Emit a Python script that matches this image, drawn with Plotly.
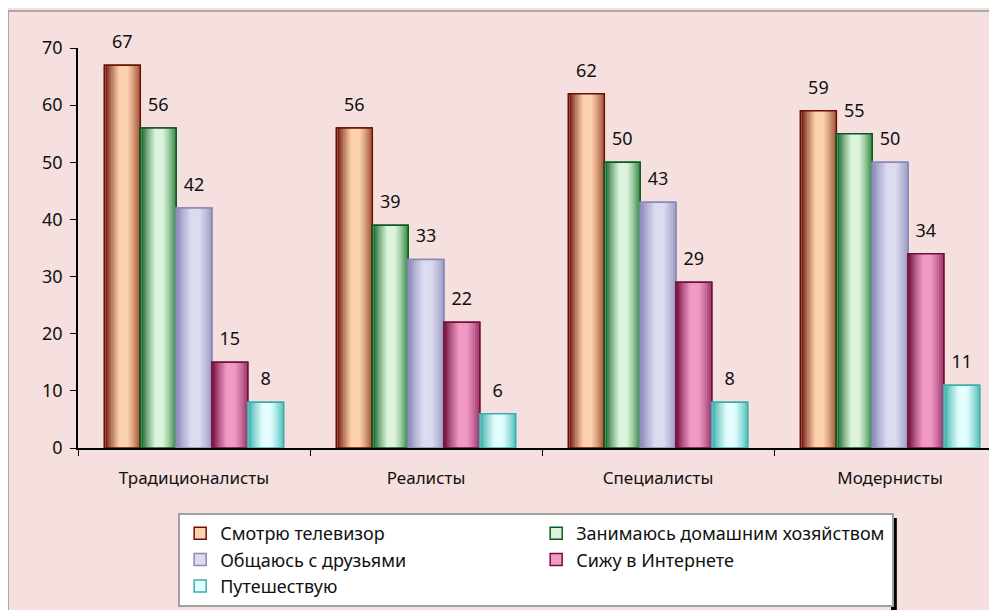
import plotly.graph_objects as go

categories = ["Традиционалисты", "Реалисты", "Специалисты", "Модернисты"]
series_names = ["Смотрю телевизор", "Занимаюсь домашним хозяйством",
                "Общаюсь с друзьями", "Сижу в Интернете", "Путешествую"]
tv = [67, 56, 62, 59]
house = [56, 39, 50, 55]
friends = [42, 33, 43, 50]
internet = [15, 22, 29, 34]
travel = [8, 6, 8, 11]
y_ticks = [0, 10, 20, 30, 40, 50, 60, 70]

series_values = [tv, house, friends, internet, travel]
# (left-edge dark, center light, right-edge, outline)
palette = [
    ("#660c04", "#fdd2ae", "#a85a3c", "#6a0e06"),
    ("#08561a", "#dcf4dc", "#40904e", "#0b5a1e"),
    ("#8482b2", "#dcdcf0", "#a09ec6", "#8a88b6"),
    ("#6c0c38", "#f29ac6", "#a03c70", "#72103c"),
    ("#34aaa6", "#e4fefe", "#5cc4c0", "#3aaeaa"),
]

FONT = "Noto Sans"
LABEL_GAP = 1.6  # data units of empty space between bar top and its label

def hex2rgb(h):
    h = h.lstrip("#")
    return [int(h[i:i + 2], 16) for i in (0, 2, 4)]

def mix(c1, c2, a):
    r1, r2 = hex2rgb(c1), hex2rgb(c2)
    return "rgb(%d,%d,%d)" % tuple(round(x + (y - x) * a) for x, y in zip(r1, r2))

group_w = 0.772
bar_w = group_w / 5
n_strips = 18
px = 1 / 232.0

fig = go.Figure()
for i, (name, vals, (dark, light, right, edge)) in enumerate(zip(series_names, series_values, palette)):
    base_off = -group_w / 2 + i * bar_w
    # base bar (legend entry)
    fig.add_trace(go.Bar(x=categories, y=vals, name=name, width=bar_w, offset=base_off,
                         marker=dict(color=light, line=dict(color=edge, width=1.5)),
                         showlegend=True, hoverinfo="skip"))
    sw = (bar_w - 2 * px) / n_strips
    for k in range(n_strips):
        t = (k + 0.5) / n_strips
        if t < 0.42:
            col = mix(dark, light, (t / 0.42) ** 0.75)
        elif t > 0.62:
            col = mix(light, right, ((t - 0.62) / 0.38) ** 1.3)
        else:
            col = light
        fig.add_trace(go.Bar(x=categories, y=vals, width=sw * 1.35,
                             offset=base_off + px + k * sw,
                             marker=dict(color=col, line=dict(width=0)),
                             showlegend=False, hoverinfo="skip"))
    # outline on top
    fig.add_trace(go.Bar(x=categories, y=vals, width=bar_w, offset=base_off,
                         marker=dict(color="rgba(0,0,0,0)", line=dict(color=edge, width=1.5)),
                         showlegend=False, hoverinfo="skip"))
    # value labels (invisible spacer bar sitting on the bar top)
    fig.add_trace(go.Bar(x=categories, y=[LABEL_GAP] * len(vals), base=vals,
                         width=bar_w, offset=base_off,
                         marker=dict(color="rgba(0,0,0,0)", line=dict(width=0)),
                         text=[str(v) for v in vals], textposition="outside",
                         textfont=dict(size=18, color="#111111", family=FONT),
                         cliponaxis=False, showlegend=False, hoverinfo="skip"))

fig.update_layout(
    width=989, height=602,
    barmode="overlay",
    paper_bgcolor="#f5dfdf", plot_bgcolor="#f5dfdf",
    margin=dict(l=70, r=0, t=40, b=162, autoexpand=False),
    font=dict(family=FONT, size=17, color="#111111"),
    xaxis=dict(type="category", range=[-0.5, 3.461], showline=True, linecolor="black",
               linewidth=1.5, ticks="outside", tickson="boundaries", ticklen=6,
               tickcolor="black", showgrid=False, tickfont=dict(size=17),
               ticklabelstandoff=14, automargin=False),
    yaxis=dict(range=[0, 70], tickvals=y_ticks, showline=True, linecolor="black",
               linewidth=1.5, ticks="outside", ticklen=6, tickcolor="black",
               showgrid=False, zeroline=False, tickfont=dict(size=18),
               ticklabelstandoff=4, automargin=False),
    legend=dict(orientation="h", x=0.109, xanchor="left", y=-0.1625, yanchor="top",
                bgcolor="white", bordercolor="#a0a0a0", borderwidth=2,
                entrywidth=311, font=dict(size=18), traceorder="normal",
                itemwidth=30),
    shapes=[
        dict(type="rect", xref="paper", yref="paper", x0=-0.0762, x1=1.2,
             y0=-0.6, y1=1.0925, line=dict(color="#a8a8a8", width=2),
             fillcolor="rgba(0,0,0,0)", layer="below"),
        dict(type="rect", xref="paper", yref="paper", x0=0.8847, x1=0.891,
             y0=-0.6, y1=-0.175, line=dict(width=0), fillcolor="black", layer="above"),
    ],
)

fig.write_html("out.html")
